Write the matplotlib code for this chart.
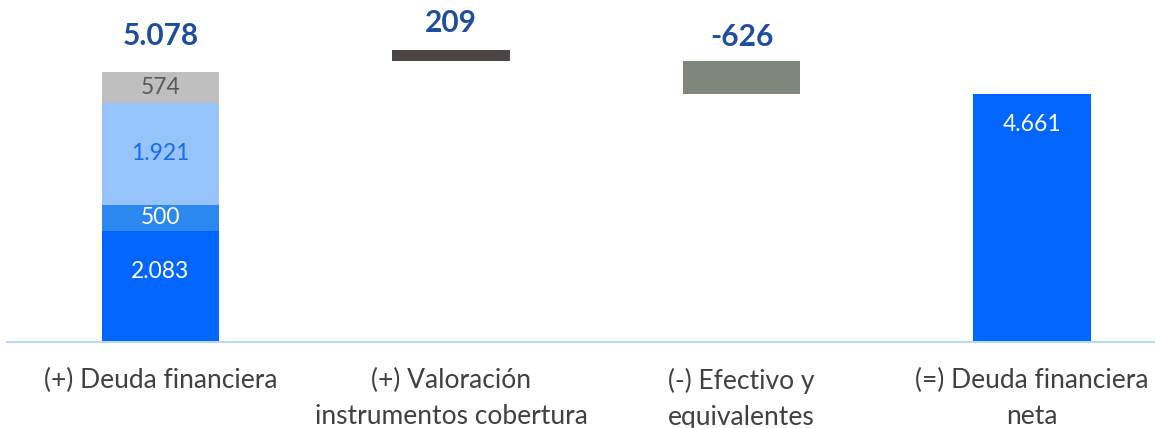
import numpy as np
import matplotlib.pyplot as plt

# datos
categorias = ["(+) Deuda financiera", "(+) Valoración\ninstrumentos cobertura",
              "(-) Efectivo y\nequivalentes", "(=) Deuda financiera\nneta"]
deuda_partes = [2083, 500, 1921, 574]
deuda_etiquetas = ["2.083", "500", "1.921", "574"]
valoracion = 209
efectivo = -626
deuda_neta = 4661
totales = ["5.078", "209", "-626"]
neta_etiqueta = "4.661"

col_partes = ["#0066FF", "#2B88F0", "#96C3F9", "#BFBFBF"]
col_texto_partes = ["white", "white", "#1A6BF0", "#595959"]
azul_titulo = "#1F4E9A"

plt.rcParams['font.family'] = ['Lato', 'DejaVu Sans']

fig = plt.figure(figsize=(11.55, 4.28), dpi=100)
ax = fig.add_axes([7 / 1155, 86 / 428, 1148 / 1155, 342 / 428])

x = np.arange(len(categorias))
w = 0.403

# barra 1 apilada
base = 0
for v, c, lab, tc in zip(deuda_partes, col_partes, deuda_etiquetas, col_texto_partes):
    ax.bar(x[0], v, w, bottom=base, color=c)
    dy = 11 if v == deuda_partes[0] else 0
    ax.annotate(lab, (x[0], base + v / 2), xytext=(0, dy), textcoords="offset points",
                ha="center", va="center", color=tc, fontsize=16.5)
    base += v
total1 = base

# barra 2 (flotante)
acum = total1 + valoracion
ax.bar(x[1], valoracion, w, bottom=acum, color="#4B4546")
# barra 3
ax.bar(x[2], efectivo, w, bottom=acum, color="#7D877B")
# barra 4
ax.bar(x[3], deuda_neta, w, color="#0066FF")
ax.annotate(neta_etiqueta, (x[3], deuda_neta), xytext=(0, -22), textcoords="offset points",
            ha="center", va="center", color="white", fontsize=16.5)

# etiquetas superiores
tops = [total1, acum + valoracion, acum]
offs = [26, 19, 17]
for xi, t, lab, o in zip(x[:3], tops, totales, offs):
    ax.annotate(lab, (xi, t), xytext=(0, o), textcoords="offset points",
                ha="center", va="center", color=azul_titulo, fontsize=21.5, fontweight="bold")

ax.set_xlim((7 - 160.5) / 290.5, (1155 - 160.5) / 290.5)
ax.set_ylim(0, 342 * 5078 / 270)
ax.set_xticks(x)
ax.set_xticklabels(categorias, fontsize=19, color="#404040", linespacing=1.55)
ax.tick_params(axis="x", length=0, pad=19)
ax.set_yticks([])
for s in ["top", "right", "left"]:
    ax.spines[s].set_visible(False)
ax.spines["bottom"].set_color("#BDD7EE")
ax.spines["bottom"].set_linewidth(1.5)

fig.savefig("out.png", dpi=100)
